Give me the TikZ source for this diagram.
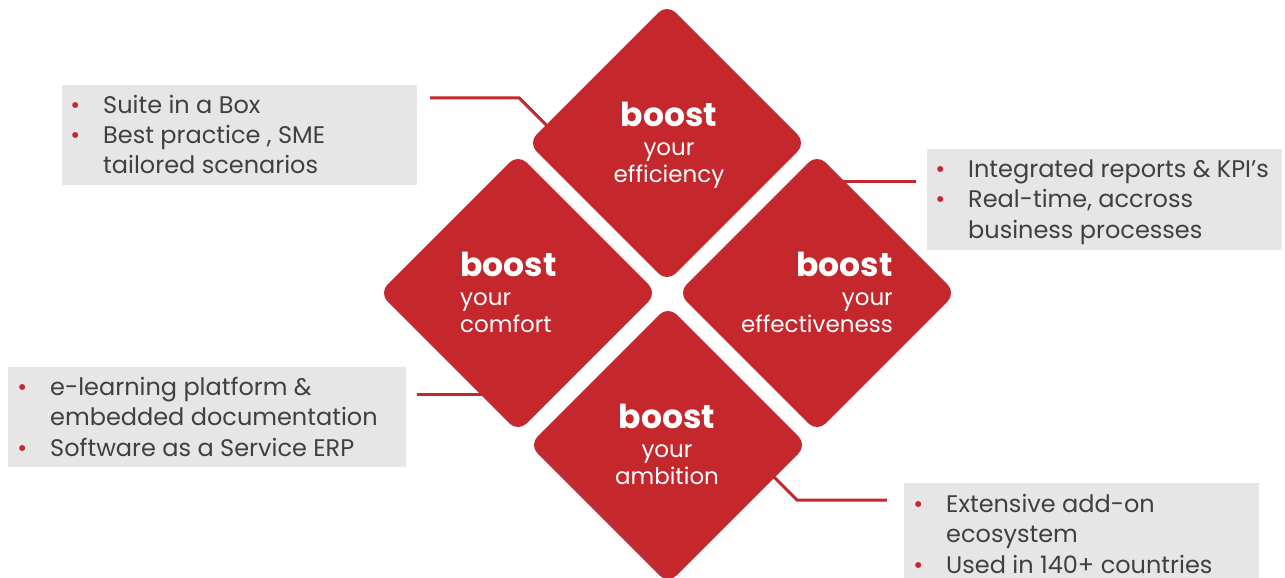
\documentclass[tikz,border=0pt]{standalone}
\usepackage{fontspec}
\setmainfont{Poppins}
\usetikzlibrary{shapes.geometric,calc}
\pgfdeclarelayer{back}
\pgfdeclarelayer{bg}
\pgfsetlayers{back,bg,main}
\definecolor{bred}{RGB}{196,39,44}
\definecolor{bgray}{RGB}{230,230,230}
\definecolor{tgray}{RGB}{64,64,64}
\newcommand\bitem{\makebox[28pt][l]{\makebox[0pt]{\textcolor{bred}{•}}}}
\newcommand\bhang{\hspace*{28pt}}
\newcommand\btext[1]{\parbox[t]{420pt}{\fontsize{24}{30.5}\selectfont#1}}
\begin{document}
\begin{tikzpicture}[x=1pt,y=-1pt,
  dia/.style={diamond, aspect=1, minimum width=278pt, minimum height=278pt, inner sep=0pt, outer sep=0pt, fill=bred, rounded corners=12pt},
  gbox/.style={fill=bgray, inner sep=0pt, outer sep=0pt, anchor=north west},
  conn/.style={draw=bred, line width=3pt},
  boostf/.style={text=white, inner sep=0pt, font=\fontsize{33}{33}\selectfont\bfseries},
  subf/.style={text=white, inner sep=0pt, font=\fontsize{23}{23}\selectfont},
  btxt/.style={inner sep=0pt, anchor=base west, text=tgray}]
\useasboundingbox (0,0) rectangle (1285,578);
\begin{pgfonlayer}{back}
\fill[white] (0,0) rectangle (1285,578);
\end{pgfonlayer}
% diamonds
\node[dia] (dtop) at (667,143) {};
\node[dia] (dleft) at (518,293) {};
\node[dia] (dright) at (817,293) {};
\node[dia] (dbot) at (668,445) {};
% diamond texts
\node[boostf, anchor=base] (ttop1) at (669,126) {boost};
\node[subf, anchor=base] (ttop2) at (669,155) {your};
\node[subf, anchor=base] (ttop3) at (669,182) {efficiency};
\node[boostf, anchor=base west] (tleft1) at (460,276) {boost};
\node[subf, anchor=base west] (tleft2) at (460,305) {your};
\node[subf, anchor=base west] (tleft3) at (460,332) {comfort};
\node[boostf, anchor=base east] (tright1) at (893,276) {boost};
\node[subf, anchor=base east] (tright2) at (893,305) {your};
\node[subf, anchor=base east] (tright3) at (893,332) {effectiveness};
\node[boostf, anchor=base] (tbot1) at (667,428) {boost};
\node[subf, anchor=base] (tbot2) at (667,457) {your};
\node[subf, anchor=base] (tbot3) at (667,484) {ambition};
\begin{pgfonlayer}{bg}
% grey boxes
\node[gbox, minimum width=355pt, minimum height=100pt] (b1) at (62,85) {};
\node[gbox, minimum width=355pt, minimum height=101pt] (b2) at (927,149) {};
\node[gbox, minimum width=398pt, minimum height=100pt] (b3) at (8,367) {};
\node[gbox, minimum width=355pt, minimum height=95pt] (b4) at (904,483) {};
% connectors
\coordinate (e1) at ($(dtop.west)!0.13!(dtop.north)$);
\coordinate (k1) at ($(e1)+(-27,-27)$);
\coordinate (s1) at ($(k1)+(-89,0)$);
\draw[conn] (s1) -- (k1) -- ($(e1)+(4,4)$);
\coordinate (e2) at ($(dright.north)!0.2!(dright.east)$);
\coordinate (s2) at ($(e2)+(71,0)$);
\draw[conn] ($(e2)+(-5,0)$) -- (s2);
\coordinate (e3) at ($(dleft.west)!0.73!(dleft.south)$);
\coordinate (s3) at ($(e3)+(-63.5,0)$);
\draw[conn] (s3) -- ($(e3)+(5,0)$);
\coordinate (e4) at ($(dbot.east)!0.234!(dbot.south)$);
\coordinate (k4) at ($(e4)+(22.5,22.5)$);
\coordinate (s4) at ($(k4)+(90,0)$);
\draw[conn] ($(e4)+(-4,-4)$) -- (k4) -- (s4);
\end{pgfonlayer}
% box texts
\node[btxt] (l1) at (75,113) {\btext{\bitem Suite in a Box\\ \bitem Best practice , SME\\ \bhang tailored scenarios}};
\node[btxt] (l2) at (940,177) {\btext{\bitem Integrated reports \& KPI’s\\ \bitem Real-time, accross\\ \bhang business processes}};
\node[btxt] (l3) at (22,395) {\btext{\bitem e-learning platform \&\\ \bhang embedded documentation\\ \bitem Software as a Service ERP}};
\node[btxt] (l4) at (918,512) {\btext{\bitem Extensive add-on\\ \bhang ecosystem\\ \bitem Used in 140+ countries}};
\end{tikzpicture}
\end{document}
